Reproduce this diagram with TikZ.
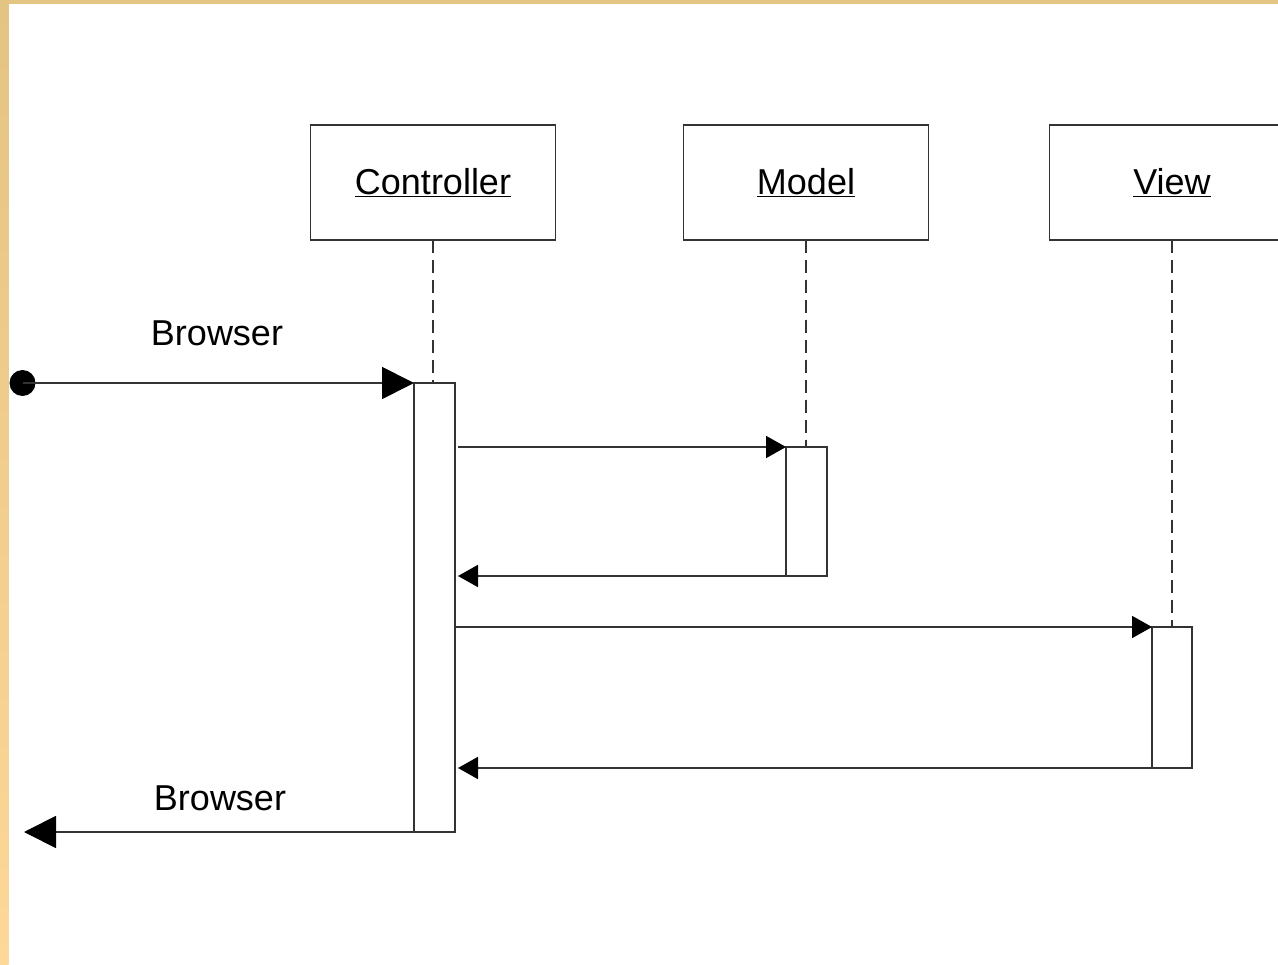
\documentclass[tikz,border=0pt]{standalone}
\usepackage{fontspec}
\setmainfont{Liberation Sans}
\usetikzlibrary{arrows.meta,calc}
\definecolor{linec}{HTML}{333333}
\definecolor{goldtop}{HTML}{E4C483}
\definecolor{goldbot}{HTML}{FDD898}
\tikzset{
  objbox/.style={draw=linec,line width=1.8pt,minimum width=245pt,minimum height=115pt,inner sep=0pt,outer sep=0pt,font=\fontsize{36}{40}\selectfont},
  act/.style={draw=linec,line width=1.8pt,fill=white,inner sep=0pt,outer sep=0pt,minimum width=41pt,anchor=north west},
  life/.style={draw=linec,line width=2pt,dash pattern=on 13pt off 7pt},
  msg/.style={draw=linec,line width=1.8pt,-{Triangle[length=20pt,width=22pt,color=black]}},
  bigmsg/.style={draw=linec,line width=1.8pt,-{Triangle[length=32pt,width=32pt,color=black]}},
  lbl/.style={font=\fontsize{36}{40}\selectfont,inner sep=0pt},
  dot/.style={circle,fill=black,minimum size=26pt,inner sep=0pt}
}
\begin{document}
\begin{tikzpicture}[x=1pt,y=-1pt]
\useasboundingbox (0,0) rectangle (1278,965);
\fill[white] (0,0) rectangle (1278,965);
\shade[top color=goldtop,bottom color=goldbot] (0,0) rectangle (8.5,965);
\fill[goldtop] (0,0) rectangle (1278,4);
% objects
\node[objbox] (c) at (433,182.5) {\underline{Controller}};
\node[objbox] (m) at (806,182.5) {\underline{Model}};
\begin{scope}
\clip (0,0) rectangle (1278,965);
\node[objbox] (v) at (1172,182.5) {\underline{View}};
\end{scope}
% activations
\node[act,minimum height=449pt] (ca) at (414,383) {};
\node[act,minimum height=129pt] (ma) at (786,447) {};
\node[act,minimum height=141pt,minimum width=40pt] (va) at (1152,627) {};
% lifelines
\draw[life] (c.south) -- (c.south |- ca.north);
\draw[life] (m.south) -- (m.south |- ma.north);
\draw[life] (v.south) -- (v.south |- va.north);
% messages
\node[dot] (start) at (22.5,383) {};
\coordinate (endpt) at (24,832);
\draw[bigmsg] (start.center) -- (start.center -| ca.west);
\node[lbl] (b1) at (217,333) {Browser};
\draw[msg,shorten <=3pt] (ma.north west -| ca.east) -- (ma.north west);
\draw[msg,shorten >=3pt] (ma.south west) -- (ma.south west -| ca.east);
\draw[msg] (va.north west -| ca.east) -- (va.north west);
\draw[msg,shorten >=3pt] (va.south west) -- (va.south west -| ca.east);
\draw[bigmsg] (ca.south west) -- (ca.south west -| endpt);
\node[lbl] (b2) at (220,798) {Browser};
\end{tikzpicture}
\end{document}
